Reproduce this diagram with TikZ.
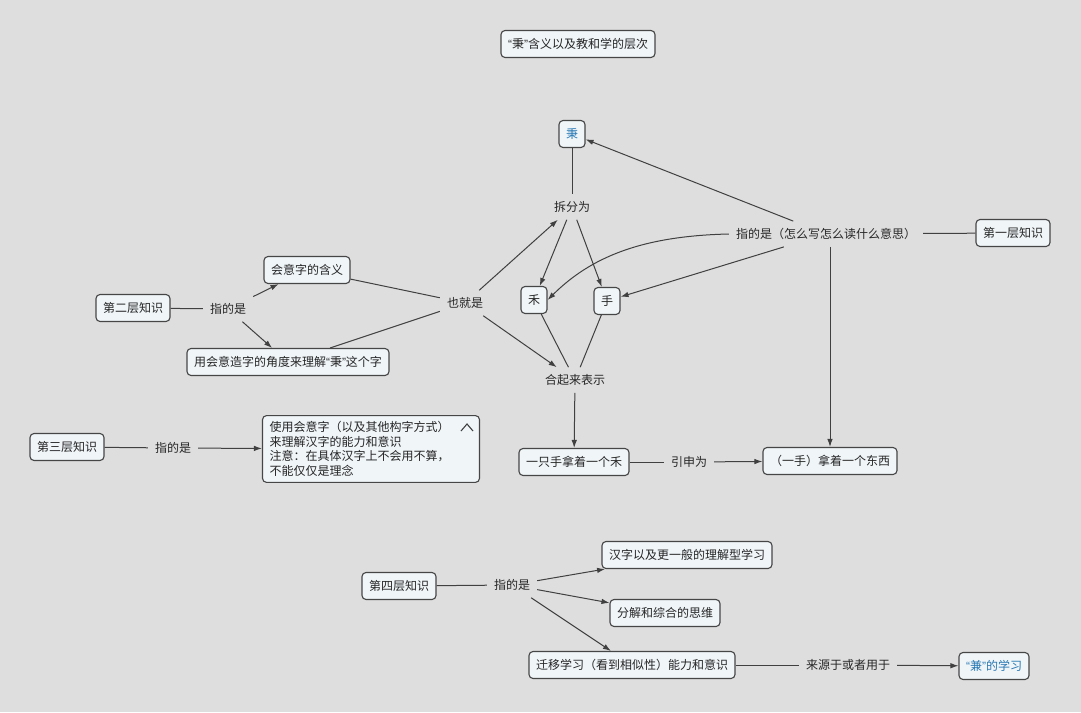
\documentclass[tikz,border=0pt]{standalone}
\usepackage{fontspec}
\newfontfamily\cjk{Noto Sans CJK SC}
\newfontfamily\latinq{Liberation Sans}
\usetikzlibrary{arrows.meta}
\definecolor{bgcol}{RGB}{222,222,222}
\definecolor{boxfill}{RGB}{240,245,248}
\definecolor{boxline}{RGB}{70,70,70}
\definecolor{linkcol}{RGB}{64,64,64}
\definecolor{bluetext}{RGB}{40,120,180}
\newcommand{\qt}[1]{{\latinq “}#1{\latinq ”}}
\tikzset{
  every node/.style={font=\cjk\fontsize{12}{14.5}\selectfont, text=black!85},
  topic/.style={draw=boxline, line width=1.1pt, fill=boxfill, rounded corners=4pt,
    inner xsep=7pt, inner ysep=6pt, minimum height=27pt},
  linktext/.style={inner sep=7pt},
  link/.style={draw=linkcol, line width=1pt},
}

\begin{document}
\begin{tikzpicture}[x=1pt,y=-1pt,>={Latex[length=8pt,width=5.5pt]}]
      \fill[bgcol] (0,0) rectangle (1081,712);
      \useasboundingbox (0,0) rectangle (1081,712);
      % title and the character
      \node[topic] (title) at (578,44) {\qt{秉}含义以及教和学的层次};
      \node[topic, text=bluetext] (bing) at (572,134) {秉};
      \node[linktext] (chai) at (572,207) {拆分为};
      \node[topic] (he) at (534,300) {禾};
      \node[topic] (shou) at (607,301) {手};
      \node[linktext] (heqi) at (575,380) {合起来表示};
      \node[linktext] (yejiu) at (465,303) {也就是};
      % second level
      \node[topic] (hanyi) at (307,270) {会意字的含义};
      \node[topic] (lv2) at (133,308) {第二层知识};
      \node[linktext] (zhi2) at (228,309) {指的是};
      \node[topic] (jiaodu) at (288,362) {用会意造字的角度来理解\qt{秉}这个字};
      % first level
      \node[linktext] (zhi1) at (826,234) {指的是（怎么写怎么读什么意思）};
      \node[topic] (lv1) at (1013,233) {第一层知识};
      % third level
      \node[topic] (lv3) at (67,447) {第三层知识};
      \node[linktext] (zhi3) at (173,448) {指的是};
      \node[topic, text width=203pt, align=left] (nengli) at (371,449)
        {使用会意字（以及其他构字方式）\\来理解汉字的能力和意识\\注意：在具体汉字上不会用不算，\\不能仅仅是理念};
      \draw[linkcol, line width=1.1pt] (461,431) -- (467,424) -- (473,431);
      \node[topic] (nahe) at (574,462) {一只手拿着一个禾};
      \node[linktext] (yinshen) at (689,462) {引申为};
      \node[topic] (nadong) at (830,461) {（一手）拿着一个东西};
      % fourth level
      \node[topic] (lv4) at (399,586) {第四层知识};
      \node[linktext] (zhi4) at (512,585) {指的是};
      \node[topic] (lijie) at (687,555) {汉字以及更一般的理解型学习};
      \node[topic] (fenjie) at (665,613) {分解和综合的思维};
      \node[topic] (qianyi) at (632,665) {迁移学习（看到相似性）能力和意识};
      \node[linktext] (laiyuan) at (848,665) {来源于或者用于};
      \node[topic, text=bluetext] (jian) at (994,666) {\qt{兼}的学习};

      \draw[link] (bing) -- (chai);
      \draw[link,->] (chai) -- (he);
      \draw[link,->] (chai) -- (shou);
      \draw[link] (he) -- (heqi);
      \draw[link] (shou) -- (heqi);
      \draw[link,->] (yejiu) -- (chai);
      \draw[link,->] (yejiu) -- (heqi);
      \draw[link] (hanyi) -- (yejiu);
      \draw[link] (jiaodu) -- (yejiu);
      \draw[link] (lv2) -- (zhi2);
      \draw[link,->] (zhi2) -- (hanyi);
      \draw[link,->] (zhi2) -- (jiaodu);
      \draw[link,->] (zhi1) -- (bing);
      \draw[link,->] (zhi1.west) .. controls (640,236) and (590,258) .. (he.east);
      \draw[link,->] (zhi1) -- (shou);
      \draw[link,->] (zhi1.south -| nadong) -- (nadong);
      \draw[link] (zhi1) -- (lv1);
      \draw[link,->] (heqi) -- (nahe);
      \draw[link] (nahe) -- (yinshen);
      \draw[link,->] (yinshen) -- (nadong);
      \draw[link] (lv3) -- (zhi3);
      \draw[link,->] (zhi3) -- (nengli);
      \draw[link] (lv4) -- (zhi4);
      \draw[link,->] (zhi4) -- (lijie);
      \draw[link,->] (zhi4) -- (fenjie);
      \draw[link,->] (zhi4) -- (qianyi);
      \draw[link] (qianyi) -- (laiyuan);
      \draw[link,->] (laiyuan) -- (jian);
\end{tikzpicture}
\end{document}
